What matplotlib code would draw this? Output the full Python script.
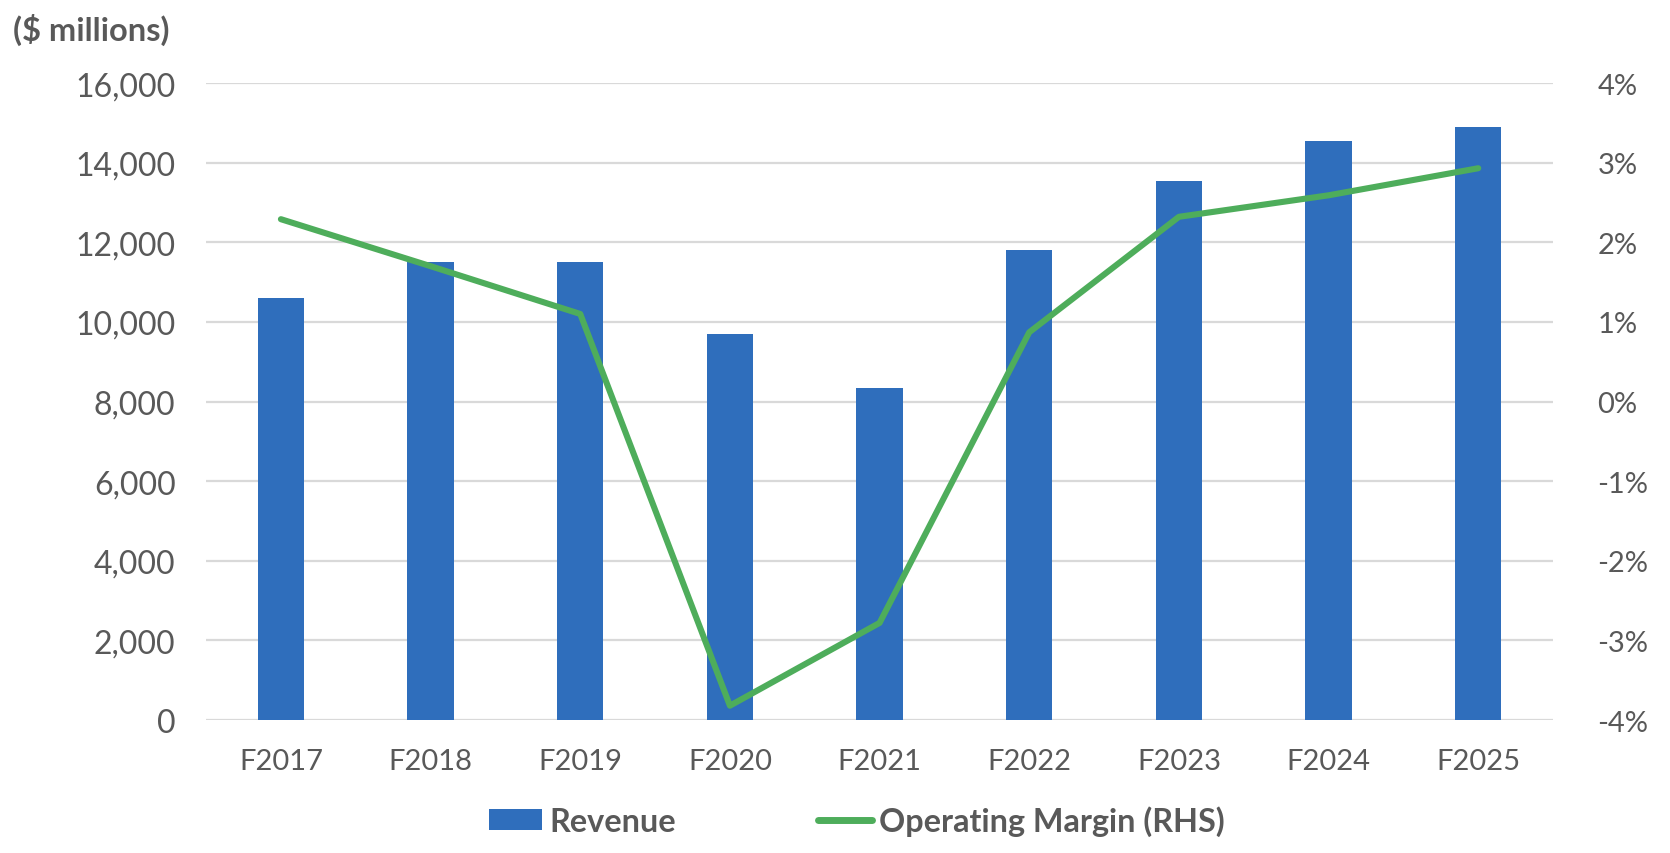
import matplotlib
matplotlib.use("Agg")
import matplotlib.pyplot as plt
from matplotlib.ticker import FuncFormatter, FixedLocator
from matplotlib.patches import Patch
from matplotlib.lines import Line2D

years = ["F2017", "F2018", "F2019", "F2020", "F2021", "F2022", "F2023", "F2024", "F2025"]
revenue = [10600, 11500, 11500, 9700, 8330, 11800, 13550, 14550, 14900]
op_margin = [2.29, 1.70, 1.10, -3.82, -2.78, 0.87, 2.32, 2.59, 2.93]
left_ticks = [0, 2000, 4000, 6000, 8000, 10000, 12000, 14000, 16000]
right_ticks = [-4, -3, -2, -1, 0, 1, 2, 3, 4]

plt.rcParams['font.family'] = ['Lato', 'DejaVu Sans']
txt = '#595959'
bar_c = '#2F6EBC'
line_c = '#4EAD5B'
grid_c = '#D9D9D9'

fig = plt.figure(figsize=(16.7, 8.54), dpi=100)
ax = fig.add_axes([0.1234, 0.1557, 0.8066, 0.7459])
x = list(range(len(years)))
ax.bar(x, revenue, width=0.31, color=bar_c, zorder=2)
ax.set_xlim(-0.5, len(years) - 0.5)
ax.set_ylim(0, 16000)
ax.yaxis.set_major_locator(FixedLocator(left_ticks))
ax.yaxis.set_major_formatter(FuncFormatter(lambda v, p: f"{int(v):,}"))
ax.set_xticks(x)
ax.set_xticklabels(years)
ax.grid(axis='y', color=grid_c, linewidth=1.6, zorder=0)
ax.set_axisbelow(True)
for s in ['top', 'right', 'left', 'bottom']:
    ax.spines[s].set_visible(False)
ax.tick_params(axis='x', length=0, labelsize=21, colors=txt, pad=20)
ax.tick_params(axis='y', length=0, labelsize=23, colors=txt, pad=22)

ax2 = ax.twinx()
ax2.plot(x, op_margin, color=line_c, linewidth=4.4, solid_capstyle='round', solid_joinstyle='round', zorder=3)
ax2.set_ylim(-4, 4)
ax2.yaxis.set_major_locator(FixedLocator(right_ticks))
ax2.yaxis.set_major_formatter(FuncFormatter(lambda v, p: f"{int(round(v))}%"))
for s in ['top', 'right', 'left', 'bottom']:
    ax2.spines[s].set_visible(False)
ax2.tick_params(axis='y', length=0, labelsize=21, colors=txt, pad=32)

fig.text(0.008, 0.965, "($ millions)", fontsize=23.5, fontweight='bold', color=txt, ha='left', va='center')

handles = [Patch(facecolor=bar_c, edgecolor='none'),
           Line2D([0], [0], color=line_c, linewidth=5, solid_capstyle='round')]
leg = fig.legend(handles, ["Revenue", "Operating Margin (RHS)"], loc='center',
                 bbox_to_anchor=(0.513, 0.038), ncol=2, frameon=False,
                 prop={'size': 23.3, 'weight': 'bold'}, handlelength=1.65,
                 handleheight=0.6, handletextpad=0.22, columnspacing=4.4)
for t in leg.get_texts():
    t.set_color(txt)

fig.savefig("out.png", dpi=100)
